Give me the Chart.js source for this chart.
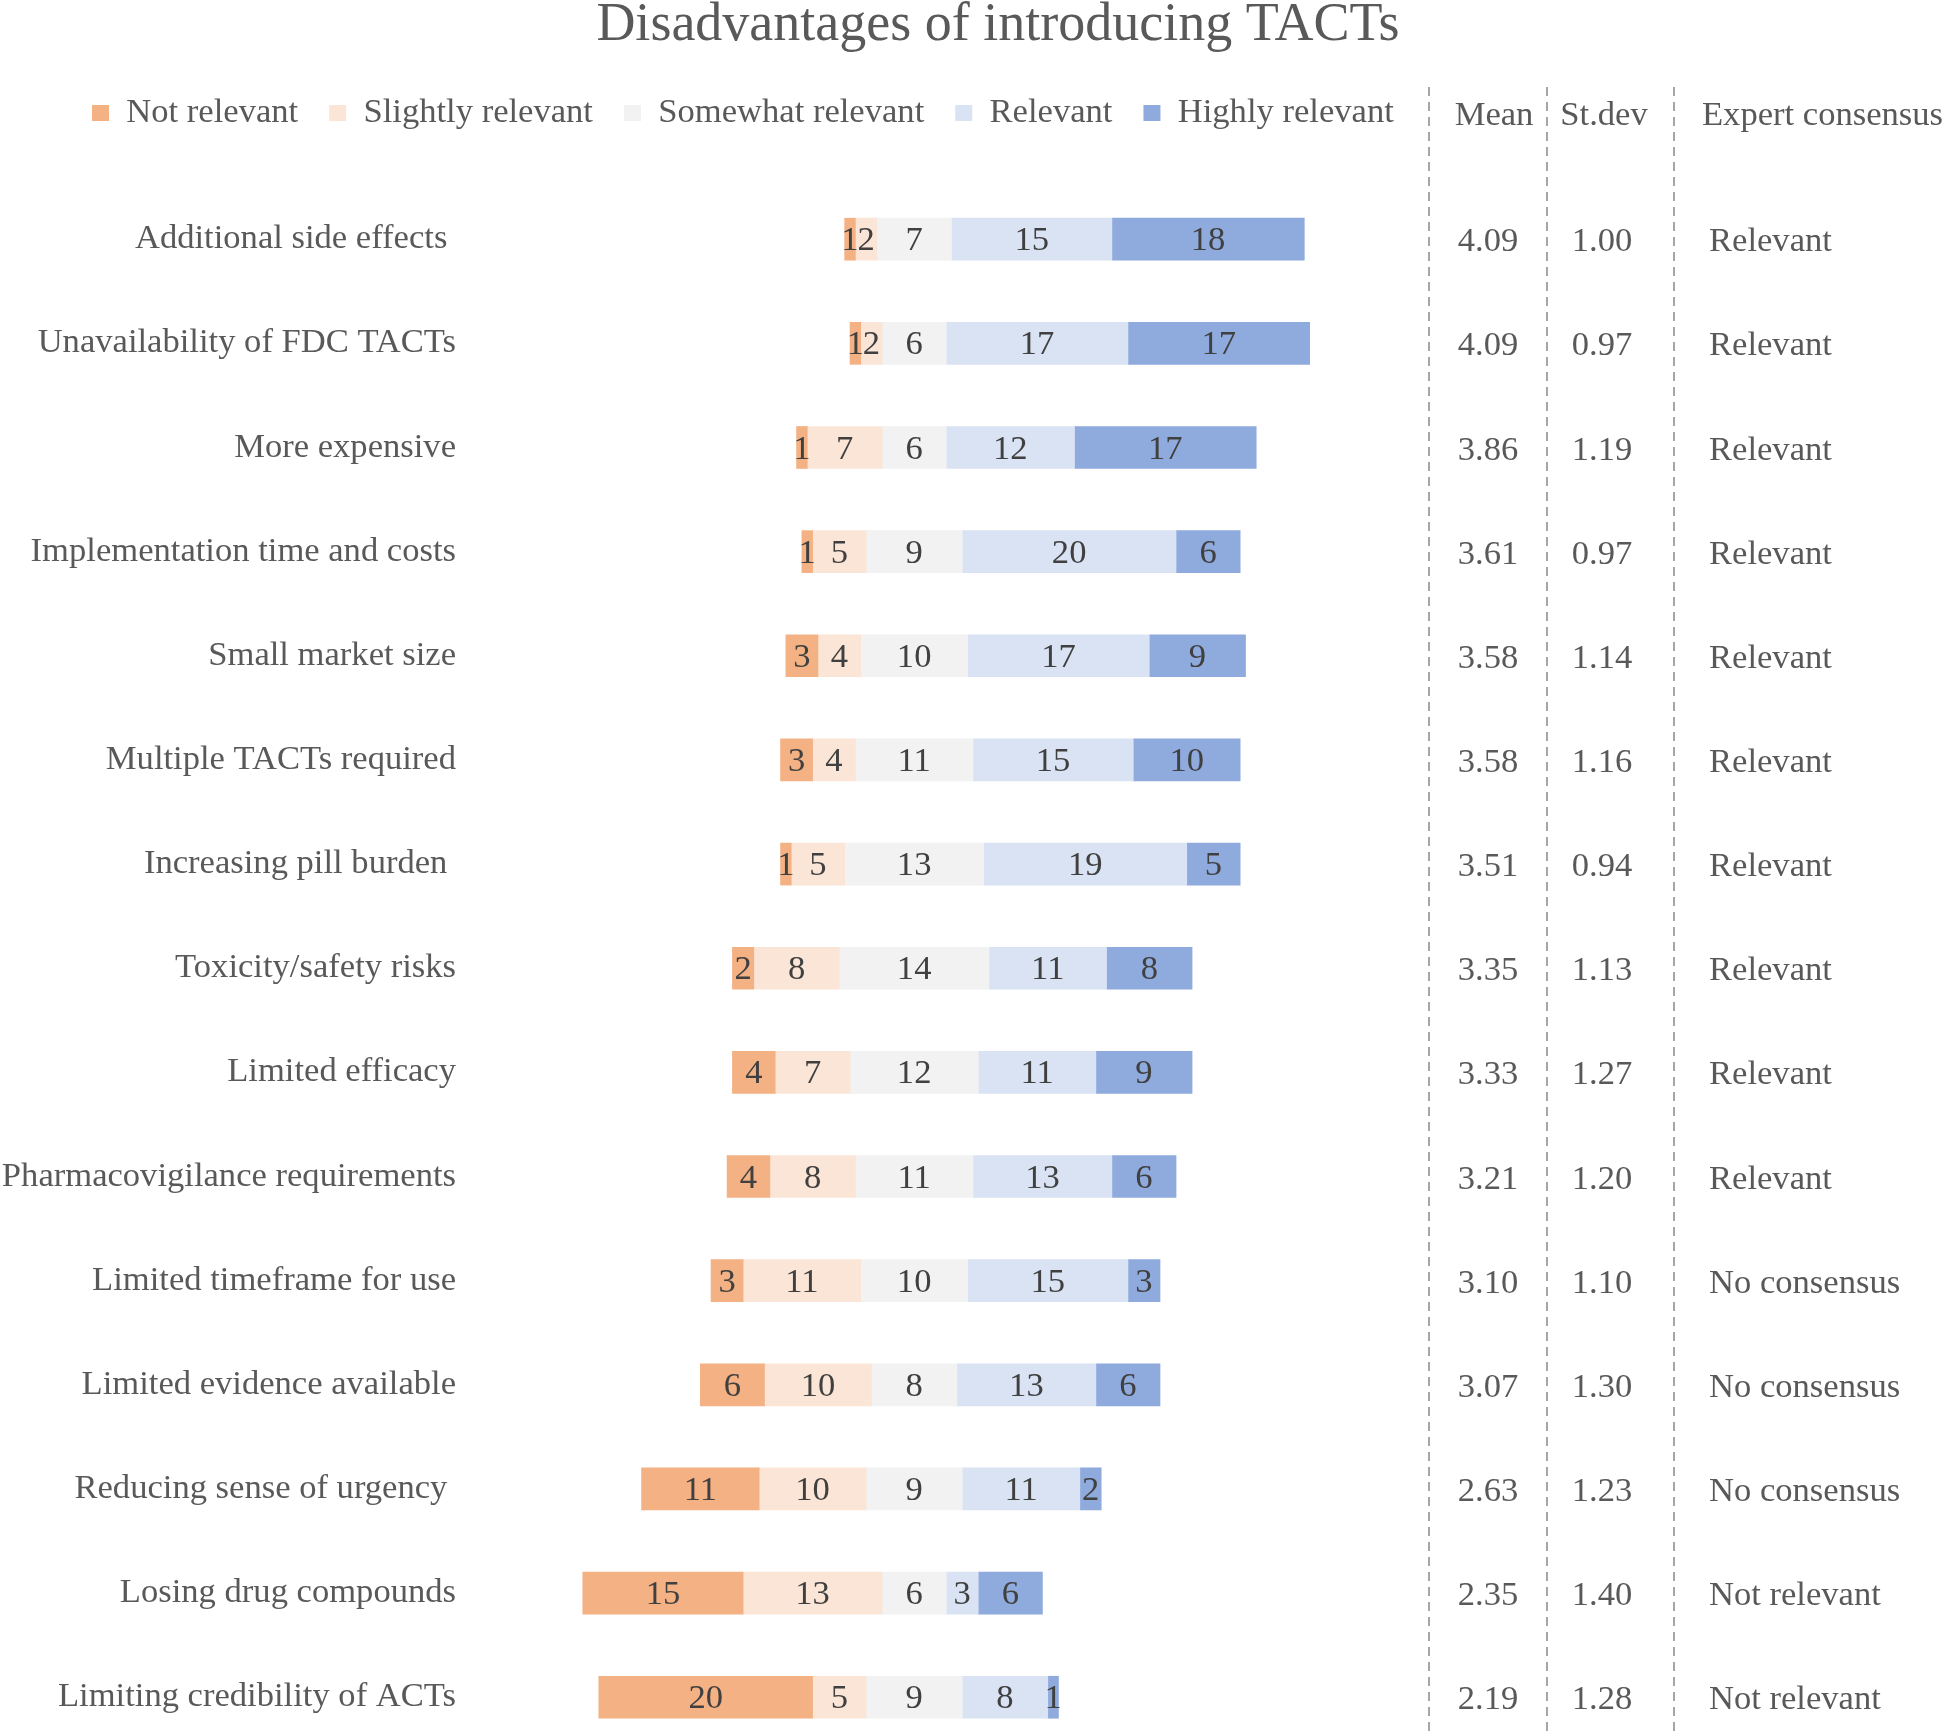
<!DOCTYPE html>
<html>
<head>
<meta charset="utf-8">
<title>Disadvantages of introducing TACTs</title>
<script src="https://cdn.jsdelivr.net/npm/chart.js@4.4.1/dist/chart.umd.min.js"></script>
<style>
  html, body { margin: 0; padding: 0; background: #ffffff; overflow: hidden; }
  #wrap { width: 1948px; height: 1732px; position: relative; }
</style>
</head>
<body>
<div id="wrap"><canvas id="tacts-chart"></canvas></div>
<script>
// Survey answers per item (number of experts for each level)
const categories = [
  "Additional side effects ",
  "Unavailability of FDC TACTs",
  "More expensive",
  "Implementation time and costs",
  "Small market size",
  "Multiple TACTs required",
  "Increasing pill burden ",
  "Toxicity/safety risks",
  "Limited efficacy",
  "Pharmacovigilance requirements",
  "Limited timeframe for use",
  "Limited evidence available",
  "Reducing sense of urgency ",
  "Losing drug compounds",
  "Limiting credibility of ACTs",
];
const notRelevant = [1, 1, 1, 1, 3, 3, 1, 2, 4, 4, 3, 6, 11, 15, 20];
const slightlyRelevant = [2, 2, 7, 5, 4, 4, 5, 8, 7, 8, 11, 10, 10, 13, 5];
const somewhatRelevant = [7, 6, 6, 9, 10, 11, 13, 14, 12, 11, 10, 8, 9, 6, 9];
const relevant = [15, 17, 12, 20, 17, 15, 19, 11, 11, 13, 15, 13, 11, 3, 8];
const highlyRelevant = [18, 17, 17, 6, 9, 10, 5, 8, 9, 6, 3, 6, 2, 6, 1];

// Right-hand table
const means = [4.09, 4.09, 3.86, 3.61, 3.58, 3.58, 3.51, 3.35, 3.33, 3.21, 3.10, 3.07, 2.63, 2.35, 2.19];
const stdevs = [1.00, 0.97, 1.19, 0.97, 1.14, 1.16, 0.94, 1.13, 1.27, 1.20, 1.10, 1.30, 1.23, 1.40, 1.28];
const consensus = [
  "Relevant", "Relevant", "Relevant", "Relevant", "Relevant", "Relevant", "Relevant",
  "Relevant", "Relevant", "Relevant", "No consensus", "No consensus", "No consensus",
  "Not relevant", "Not relevant",
];

const levelNames = ["Not relevant", "Slightly relevant", "Somewhat relevant", "Relevant", "Highly relevant"];
const levelCounts = [notRelevant, slightlyRelevant, somewhatRelevant, relevant, highlyRelevant];
const levelColors = ["#F4B183", "#FBE5D6", "#F2F2F2", "#DAE3F3", "#8FAADC"];

const FONT = "'Liberation Serif', 'Times New Roman', serif";
const TEXT = "#595959";

Chart.defaults.font.family = FONT;
Chart.defaults.color = TEXT;

// Bars are centred on the middle of the "Somewhat relevant" segment
const rowStart = categories.map((_, i) => -(notRelevant[i] + slightlyRelevant[i] + somewhatRelevant[i] / 2));

const datasets = levelCounts.map((counts, k) => ({
  label: levelNames[k],
  counts: counts,
  data: counts.map((n, i) => {
    let start = rowStart[i];
    for (let j = 0; j < k; j++) start += levelCounts[j][i];
    return [start, start + n];
  }),
  backgroundColor: levelColors[k],
  borderWidth: 0,
  barThickness: 42,
  grouped: false,
  clip: false,
}));

// let the long category labels run into the left margin instead of being clipped
const labelMargin = {
  id: "labelMargin",
  afterLayout(chart) {
    chart.scales.y.left = 0;
  },
};

// Numbers inside each segment
const segmentLabels = {
  id: "segmentLabels",
  afterDatasetsDraw(chart) {
    const ctx = chart.ctx;
    ctx.save();
    ctx.font = "34.6px " + FONT;
    ctx.fillStyle = "#404040";
    ctx.textAlign = "center";
    ctx.textBaseline = "middle";
    chart.data.datasets.forEach((ds, d) => {
      chart.getDatasetMeta(d).data.forEach((bar, i) => {
        const n = ds.counts[i];
        if (!n) return;
        ctx.fillText(String(n), (bar.x + bar.base) / 2, bar.y + 2);
      });
    });
    ctx.restore();
  },
};

// Mean / St.dev / Expert consensus columns with dashed separators
const statsTable = {
  id: "statsTable",
  afterDraw(chart) {
    const ctx = chart.ctx;
    const yScale = chart.scales.y;
    ctx.save();
    ctx.strokeStyle = "#A6A6A6";
    ctx.lineWidth = 2;
    ctx.setLineDash([9, 6]);
    [1429, 1547, 1674].forEach((x) => {
      ctx.beginPath();
      ctx.moveTo(x, 87);
      ctx.lineTo(x, chart.height);
      ctx.stroke();
    });
    ctx.setLineDash([]);

    ctx.font = "34.6px " + FONT;
    ctx.fillStyle = TEXT;
    ctx.textBaseline = "middle";
    ctx.textAlign = "center";
    ctx.fillText("Mean", 1494, 116);
    ctx.fillText("St.dev", 1604, 116);
    ctx.textAlign = "left";
    ctx.fillText("Expert consensus", 1702, 116);

    categories.forEach((_, i) => {
      const y = yScale.getPixelForValue(i) + 3;
      ctx.textAlign = "center";
      ctx.fillText(means[i].toFixed(2), 1488, y);
      ctx.fillText(stdevs[i].toFixed(2), 1602, y);
      ctx.textAlign = "left";
      ctx.fillText(consensus[i], 1709, y);
    });
    ctx.restore();
  },
};

const ctx = document.getElementById("tacts-chart").getContext("2d");

const tactsChart = new Chart(ctx, {
  type: "bar",
  data: {
    labels: categories,
    datasets: datasets,
  },
  options: {
    indexAxis: "y",
    responsive: true,
    maintainAspectRatio: false,
    animation: false,
    layout: {
      padding: { left: 61, right: 13, top: 0, bottom: 31 },
    },
    scales: {
      x: {
        type: "linear",
        position: "top",
        min: -41.55,
        max: 95.5,
        grid: { display: false, drawTicks: false },
        border: { display: false },
        ticks: { display: false },
        afterFit: (scale) => {
          scale.height = 99; // room between legend and first row
        },
      },
      y: {
        offset: false,
        grid: { display: false, drawTicks: false },
        border: { display: false },
        ticks: {
          autoSkip: false,
          padding: 14,
          color: TEXT,
          font: { size: 34.6 },
        },
        afterFit: (scale) => {
          scale.width = 409;
        },
      },
    },
    plugins: {
      title: {
        display: true,
        text: "Disadvantages of introducing TACTs",
        color: TEXT,
        font: { size: 54, weight: "normal", lineHeight: 0.9 },
        padding: { top: 2, bottom: 14 },
      },
      legend: {
        position: "top",
        align: "start",
        labels: {
          boxWidth: 17,
          boxHeight: 16,
          padding: 31,
          color: TEXT,
          font: { size: 34.6 },
        },
      },
      tooltip: { enabled: false },
    },
  },
  plugins: [labelMargin, segmentLabels, statsTable],
});
</script>
</body>
</html>
